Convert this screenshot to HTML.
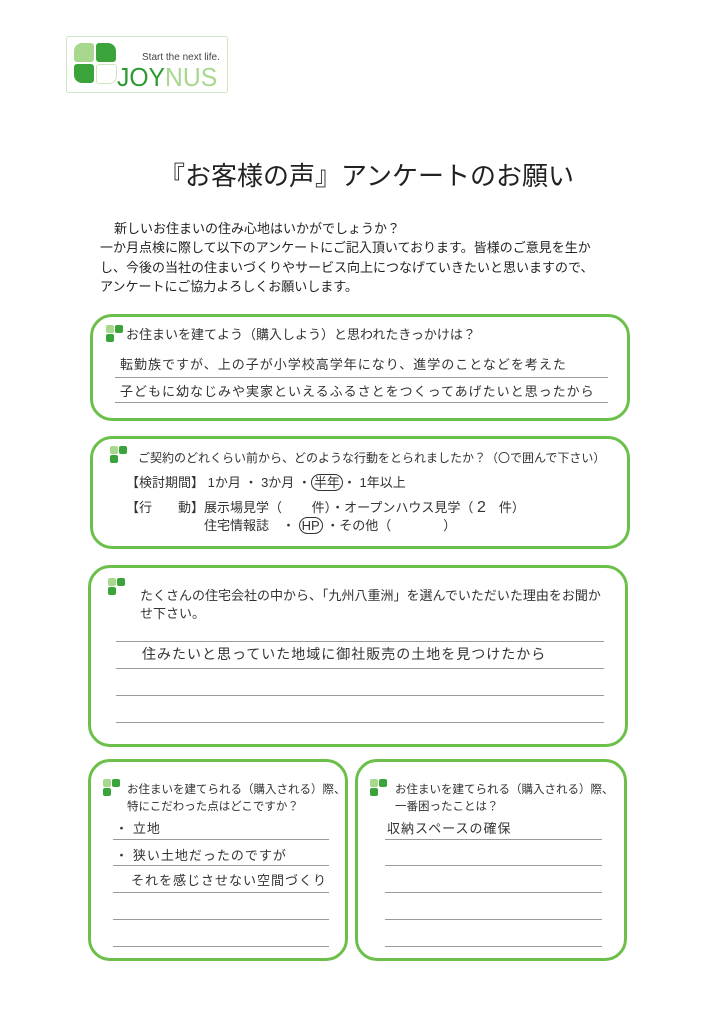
<!DOCTYPE html>
<html><head><meta charset="utf-8"><style>
body{margin:0;width:724px;height:1024px;background:#fff;position:relative;overflow:hidden;font-family:"Liberation Sans","Noto Sans CJK JP",sans-serif;color:#222}
.a{position:absolute;white-space:nowrap}
.box{position:absolute;border:3px solid #6cc04a;border-radius:22px;box-sizing:border-box}
.ln{position:absolute;height:1px;background:#9a9a9a}
.ic{position:absolute;width:18px;height:18px}
.ic i{position:absolute;display:block;width:8px;height:8px;border-radius:2px}
.q{font-size:13px;color:#333}
.h{font-size:13px;color:#333;font-family:"WenQuanYi Zen Hei","Noto Sans CJK JP",sans-serif;letter-spacing:1px}
</style></head><body>
<!-- logo -->
<div class="a" style="left:66px;top:36px;width:160px;height:55px;border:1px solid #cde6c0;border-radius:3px"></div>
<div class="a" style="left:74px;top:43px;width:20px;height:19px;background:#a8d88e;border-radius:8px 3px 3px 3px"></div>
<div class="a" style="left:96px;top:43px;width:20px;height:19px;background:#3aa33a;border-radius:3px 8px 3px 3px"></div>
<div class="a" style="left:74px;top:64px;width:20px;height:19px;background:#3aa33a;border-radius:3px 3px 3px 8px"></div>
<div class="a" style="left:96px;top:64px;width:19px;height:18px;border:1px solid #cde6c0;border-radius:3px 3px 8px 3px"></div>
<div class="a" style="left:142px;top:52px;font-size:10px;color:#444">Start the next life.</div>
<div class="a" style="left:117px;top:62px;font-size:26px;color:#2f9a30;transform:scaleX(0.95);transform-origin:left">JOY<span style="color:#a8d88e">NUS</span></div>

<div class="a" style="left:159px;top:156px;font-size:26px;color:#222">『お客様の声』アンケートのお願い</div>
<div class="a" style="left:114px;top:219px;font-size:13px;line-height:19.5px">新しいお住まいの住み心地はいかがでしょうか？</div>
<div class="a" style="left:100px;top:238px;font-size:13px;line-height:19.5px">一か月点検に際して以下のアンケートにご記入頂いております。皆様のご意見を生か<br>し、今後の当社の住まいづくりやサービス向上につなげていきたいと思いますので、<br>アンケートにご協力よろしくお願いします。</div>

<!-- box1 -->
<div class="box" style="left:90px;top:314px;width:540px;height:107px"></div>
<div class="ic" style="left:106px;top:325px"><i style="left:0;top:0;background:#a8d88e"></i><i style="left:9px;top:0;background:#3aa33a"></i><i style="left:0;top:9px;background:#3aa33a"></i></div>
<div class="a q" style="left:126px;top:324px">お住まいを建てよう（購入しよう）と思われたきっかけは？</div>
<div class="a h" style="left:120px;top:354px">転勤族ですが、上の子が小学校高学年になり、進学のことなどを考えた</div>
<div class="ln" style="left:115px;top:377px;width:493px"></div>
<div class="a h" style="left:120px;top:381px">子どもに幼なじみや実家といえるふるさとをつくってあげたいと思ったから</div>
<div class="ln" style="left:115px;top:402px;width:493px"></div>

<!-- box2 -->
<div class="box" style="left:90px;top:436px;width:540px;height:113px"></div>
<div class="ic" style="left:110px;top:446px"><i style="left:0;top:0;background:#a8d88e"></i><i style="left:9px;top:0;background:#3aa33a"></i><i style="left:0;top:9px;background:#3aa33a"></i></div>
<div class="a q" style="left:138px;top:449px;font-size:12px">ご契約のどれくらい前から、どのような行動をとられましたか？（〇で囲んで下さい）</div>
<div class="a q" style="left:126px;top:472px">【検討期間】 1か月 ・ 3か月 ・<span style="border:1px solid #333;border-radius:10px;padding:0 2px">半年</span>・ 1年以上</div>
<div class="a q" style="left:126px;top:497px">【行　　動】展示場見学（　　 件）・オープンハウス見学（ <span style="font-size:16px">2</span>　件）</div>
<div class="a q" style="left:204px;top:515px">住宅情報誌　・ <span style="border:1px solid #333;border-radius:10px;padding:0 2px">HP</span> ・その他（　　　　）</div>

<!-- box3 -->
<div class="box" style="left:88px;top:565px;width:540px;height:182px"></div>
<div class="ic" style="left:108px;top:578px"><i style="left:0;top:0;background:#a8d88e"></i><i style="left:9px;top:0;background:#3aa33a"></i><i style="left:0;top:9px;background:#3aa33a"></i></div>
<div class="a q" style="left:140px;top:587px;line-height:18px">たくさんの住宅会社の中から、「九州八重洲」を選んでいただいた理由をお聞か<br>せ下さい。</div>
<div class="ln" style="left:116px;top:641px;width:488px"></div>
<div class="a h" style="left:142px;top:644px;font-size:14px">住みたいと思っていた地域に御社販売の土地を見つけたから</div>
<div class="ln" style="left:116px;top:668px;width:488px"></div>
<div class="ln" style="left:116px;top:695px;width:488px"></div>
<div class="ln" style="left:116px;top:722px;width:488px"></div>

<!-- box4 -->
<div class="box" style="left:88px;top:759px;width:260px;height:202px"></div>
<div class="ic" style="left:103px;top:779px"><i style="left:0;top:0;background:#a8d88e"></i><i style="left:9px;top:0;background:#3aa33a"></i><i style="left:0;top:9px;background:#3aa33a"></i></div>
<div class="a q" style="left:127px;top:782px;line-height:17px;font-size:11.5px">お住まいを建てられる（購入される）際、<br>特にこだわった点はどこですか？</div>
<div class="a h" style="left:115px;top:818px">・ 立地</div>
<div class="ln" style="left:113px;top:839px;width:216px"></div>
<div class="a h" style="left:115px;top:845px">・ 狭い土地だったのですが</div>
<div class="ln" style="left:113px;top:865px;width:216px"></div>
<div class="a h" style="left:131px;top:870px">それを感じさせない空間づくり</div>
<div class="ln" style="left:113px;top:892px;width:216px"></div>
<div class="ln" style="left:113px;top:919px;width:216px"></div>
<div class="ln" style="left:113px;top:946px;width:216px"></div>

<!-- box5 -->
<div class="box" style="left:355px;top:759px;width:272px;height:202px"></div>
<div class="ic" style="left:370px;top:779px"><i style="left:0;top:0;background:#a8d88e"></i><i style="left:9px;top:0;background:#3aa33a"></i><i style="left:0;top:9px;background:#3aa33a"></i></div>
<div class="a q" style="left:395px;top:782px;line-height:17px;font-size:11.5px">お住まいを建てられる（購入される）際、<br>一番困ったことは？</div>
<div class="a h" style="left:387px;top:818px">収納スペースの確保</div>
<div class="ln" style="left:385px;top:839px;width:217px"></div>
<div class="ln" style="left:385px;top:865px;width:217px"></div>
<div class="ln" style="left:385px;top:892px;width:217px"></div>
<div class="ln" style="left:385px;top:919px;width:217px"></div>
<div class="ln" style="left:385px;top:946px;width:217px"></div>
</body></html>
